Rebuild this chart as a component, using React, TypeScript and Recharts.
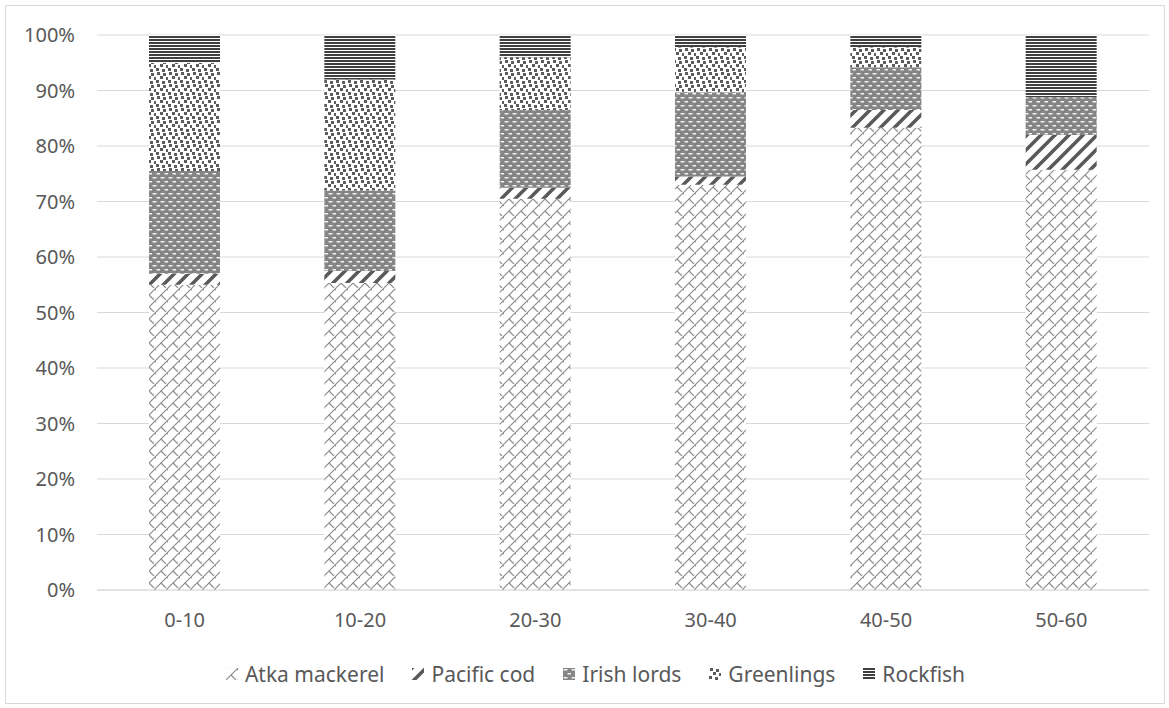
import { BarChart, Bar, XAxis, YAxis, CartesianGrid, Legend } from 'recharts';

// catch composition (%) by depth band
const depthBands = ['0-10', '10-20', '20-30', '30-40', '40-50', '50-60'];
const atkaMackerel = [55, 55.3, 70.5, 73, 83.3, 75.7];
const pacificCod = [2, 2.2, 2, 1.5, 3.2, 6.3];
const irishLords = [18.5, 14.5, 14, 15.2, 7.7, 6.8];
const greenlings = [19.5, 20, 9.5, 8.1, 3.6, 0];
const rockfish = [5, 8, 4, 2.2, 2.2, 11.2];
const yTicks = [0, 10, 20, 30, 40, 50, 60, 70, 80, 90, 100];

const seriesList = [
    { key: 'atka', name: 'Atka mackerel', pattern: 'pAtka' },
    { key: 'cod', name: 'Pacific cod', pattern: 'pCod' },
    { key: 'irish', name: 'Irish lords', pattern: 'pIrish' },
    { key: 'green', name: 'Greenlings', pattern: 'pGreen' },
    { key: 'rock', name: 'Rockfish', pattern: 'pRock' },
];

const data = depthBands.map((band, i) => ({
    band,
    atka: atkaMackerel[i],
    cod: pacificCod[i],
    irish: irishLords[i],
    green: greenlings[i],
    rock: rockfish[i],
}));

const FONT = '"Noto Sans", sans-serif';
const TEXT = '#595959';
const GRID = '#d9d9d9';

// fill patterns shared by bars and legend swatches
const Patterns = () => (
    <svg width={0} height={0} style={{ position: 'absolute' }}>
        <defs>
            <pattern id="pAtka" width={12} height={12} patternUnits="userSpaceOnUse">
                <rect width={12} height={12} fill="#fff" />
                <path d="M0,12 L12,0 M-1,1 L1,-1 M11,13 L13,11 M5,7 L10,12 M11,1 L13,3" stroke="#8a8a8a" strokeWidth={1.1} fill="none" />
            </pattern>
            <pattern id="pCod" width={14} height={14} patternUnits="userSpaceOnUse">
                <rect width={14} height={14} fill="#fff" />
                <path d="M-3.5,3.5 L3.5,-3.5 M0,14 L14,0 M10.5,17.5 L17.5,10.5" stroke="#595959" strokeWidth={3.5} fill="none" />
            </pattern>
            <pattern id="pIrish" width={8} height={8} patternUnits="userSpaceOnUse">
                <rect width={8} height={8} fill="#858585" />
                <rect x={0.5} y={1} width={4} height={1.5} fill="#f2f2f2" />
                <rect x={4.5} y={5} width={4} height={1.5} fill="#f2f2f2" />
            </pattern>
            <pattern id="pGreen" width={12} height={12} patternUnits="userSpaceOnUse">
                <rect width={12} height={12} fill="#fff" />
                <g fill="#5c5c5c">
                    <rect x={1} y={0} width={3} height={3} />
                    <rect x={7} y={1} width={3} height={3} />
                    <rect x={4} y={4} width={3} height={3} />
                    <rect x={10} y={5} width={2} height={3} />
                    <rect x={0} y={8} width={3} height={3} />
                    <rect x={6} y={9} width={3} height={3} />
                </g>
            </pattern>
            <pattern id="pRock" width={4} height={3} patternUnits="userSpaceOnUse">
                <rect width={4} height={3} fill="#fff" />
                <rect width={4} height={2} fill="#404040" />
            </pattern>
        </defs>
    </svg>
);

const renderLegend = () => (
    <div style={{ display: 'flex', justifyContent: 'center', paddingLeft: 50, fontFamily: FONT, fontSize: 21, color: TEXT, lineHeight: '26px' }}>
        {seriesList.map((s) => (
            <span key={s.key} style={{ display: 'flex', alignItems: 'center', marginRight: 28 }}>
                <svg width={12} height={12} style={{ marginRight: 7 }}>
                    <rect width={12} height={12} fill={`url(#${s.pattern})`} />
                </svg>
                {s.name}
            </span>
        ))}
    </div>
);

const App = () => {
    return (
        <div style={{ position: 'fixed', left: 0, top: 0, width: 1169, height: 708, background: '#fff' }}>
            <Patterns />
            <div style={{ position: 'absolute', left: 5, top: 5, width: 1158, height: 697, border: `1px solid ${GRID}` }} />
            <div style={{ position: 'absolute', left: 0, top: 0 }}>
                <BarChart width={1169} height={708} data={data} margin={{ top: 35, right: 20, left: 0, bottom: 88 }}>
                    <CartesianGrid vertical={false} stroke={GRID} />
                    <XAxis
                        dataKey="band"
                        height={30}
                        tickLine={false}
                        tickSize={0}
                        tickMargin={23}
                        axisLine={{ stroke: GRID }}
                        tick={{ fill: TEXT, fontSize: 20, fontFamily: FONT }}
                    />
                    <YAxis
                        width={97}
                        domain={[0, 100]}
                        ticks={yTicks}
                        tickFormatter={(v) => `${v}%`}
                        axisLine={false}
                        tickLine={false}
                        tickSize={0}
                        tickMargin={22}
                        tick={{ fill: TEXT, fontSize: 20, fontFamily: FONT }}
                    />
                    {seriesList.map((s) => (
                        <Bar key={s.key} dataKey={s.key} name={s.name} stackId="a" barSize={71} fill={`url(#${s.pattern})`} isAnimationActive={false} />
                    ))}
                    <Legend
                        layout="horizontal"
                        verticalAlign="middle"
                        content={renderLegend}
                        wrapperStyle={{ top: 661, left: 0, width: 1169, height: 26 }}
                    />
                </BarChart>
            </div>
        </div>
    );
};

export default App;
